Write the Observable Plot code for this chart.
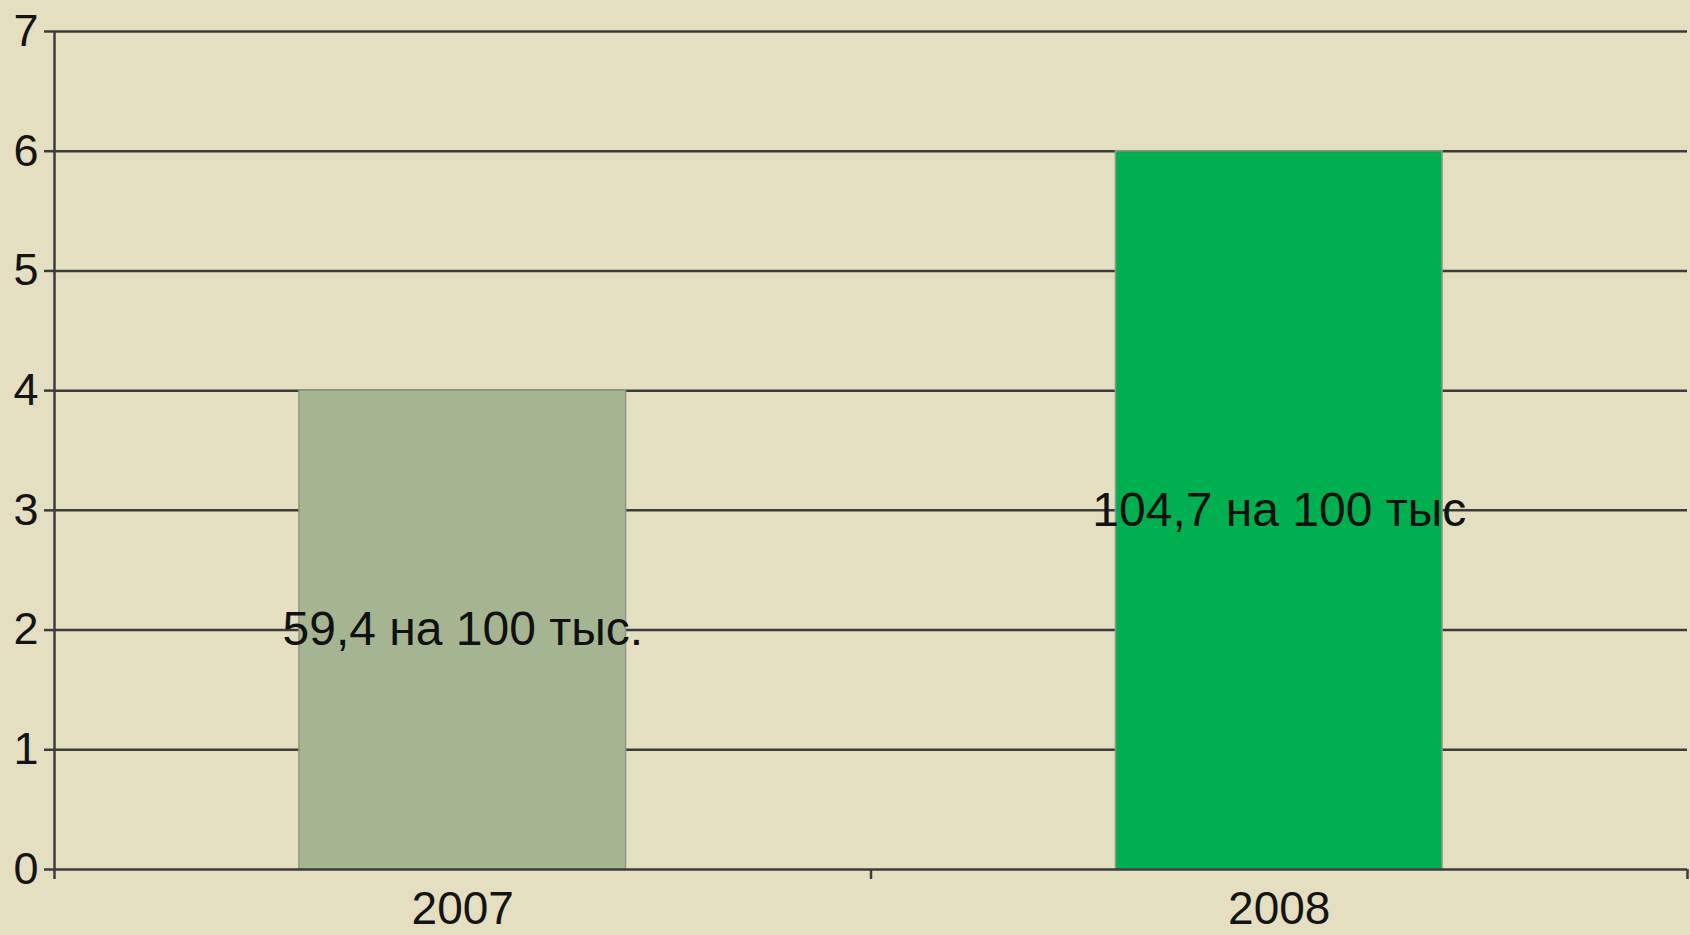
<!DOCTYPE html>
<html><head><meta charset="utf-8">
<script src="https://cdn.jsdelivr.net/npm/d3@7"></script>
<script src="https://cdn.jsdelivr.net/npm/@observablehq/plot@0.6"></script>
<style>
html,body{margin:0;padding:0;background:#e4dfc1;overflow:hidden;}
#chart svg{display:block;}
</style></head><body><div id="chart"></div>
<script>
const years = ["2007", "2008"];
const values = [4, 6];
const labels = ["59,4 на 100 тыс.", "104,7 на 100 тыс"];
const colors = ["#a5b592", "#00b050"];
const yTicks = [0, 1, 2, 3, 4, 5, 6, 7];

const data = years.map((y, i) => ({i, year: y, value: values[i], label: labels[i], color: colors[i]}));

const chart = Plot.plot({
  width: 1690, height: 935,
  marginLeft: 54, marginRight: 3, marginTop: 31, marginBottom: 66,
  style: {background: "transparent", fontFamily: "'Liberation Sans', Arial, sans-serif", color: "#141414"},
  x: {domain: [0, years.length], axis: null},
  y: {domain: [0, 7], axis: null},
  marks: [
    Plot.gridY(yTicks.slice(1), {stroke: "#3c3c3c", strokeOpacity: 1, strokeWidth: 2.5}),
    Plot.rectY(data, {x1: d => d.i + 0.3, x2: d => d.i + 0.7, y: "value", fill: "color", stroke: "#8c9886", strokeWidth: 1.5}),
    Plot.text(data, {x: d => d.i + 0.5, y: d => d.value / 2, text: "label", fontSize: 48, fill: "#111"}),
    Plot.ruleY([0], {stroke: "#3c3c3c", strokeWidth: 2.5}),
    Plot.ruleX([0], {stroke: "#3c3c3c", strokeWidth: 2.5}),
    Plot.axisY({ticks: yTicks, tickSize: 10, tickPadding: 6, tickFormat: d => String(d), fontSize: 45, stroke: "#3c3c3c", strokeWidth: 2.5, label: null}),
    Plot.axisX({ticks: d3.range(years.length + 1), tickSize: 10, tickFormat: () => "", stroke: "#3c3c3c", strokeWidth: 2.5, label: null}),
    Plot.axisX({ticks: years.map((y, i) => i + 0.5), tickSize: 0, tickPadding: 22, tickFormat: d => years[Math.floor(d)], fontSize: 46, label: null})
  ]
});
document.getElementById("chart").append(chart);
</script></body></html>
